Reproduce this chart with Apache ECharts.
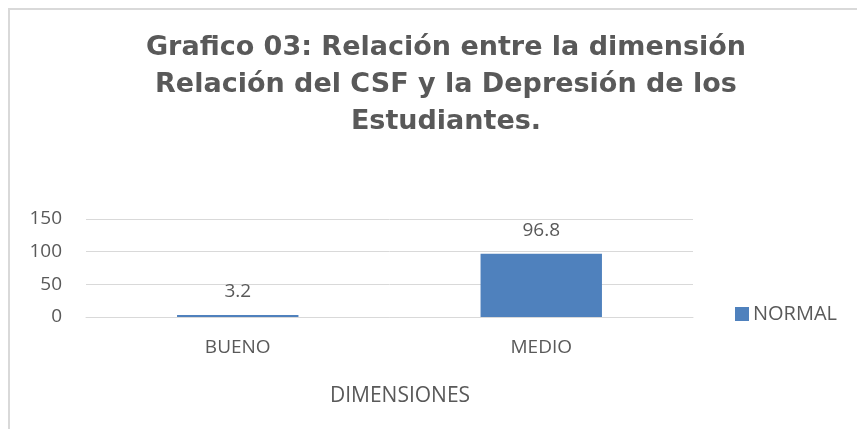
<!DOCTYPE html>
<html>
<head>
<meta charset="utf-8">
<script src="https://cdn.jsdelivr.net/npm/echarts@6/dist/echarts.min.js"></script>
<style>
  html, body { margin: 0; padding: 0; background: #fff; }
  #chart { width: 857px; height: 429px; }
</style>
</head>
<body>
<div id="chart"></div>
<script>
const categories = ['BUENO', 'MEDIO'];
const normalValues = [3.2, 96.8];
const seriesName = 'NORMAL';
const titleText = 'Grafico 03: Relación entre la dimensión\nRelación del CSF y la Depresión de los\nEstudiantes.';
const axisName = 'DIMENSIONES';

const textColor = '#595959';
const gridColor = '#d9d9d9';
const barColor = '#4f81bd';
const labelFont = '"Open Sans", Lato, sans-serif';

const chart = echarts.init(document.getElementById('chart'));

const option = {
  animation: false,
  title: {
    text: titleText,
    left: 446,
    top: 29,
    textAlign: 'center',
    padding: 0,
    textStyle: {
      fontFamily: '"DejaVu Sans", "Liberation Sans", sans-serif',
      fontSize: 27,
      fontWeight: 'bold',
      color: textColor,
      lineHeight: 37,
      align: 'center',
    },
  },
  graphic: [
    {
      type: 'rect',
      shape: { x: 9, y: 9, width: 900, height: 460 },
      style: { fill: 'none', stroke: gridColor, lineWidth: 2 },
      silent: true,
    },
  ],
  legend: {
    data: [seriesName],
    left: 735,
    top: 304,
    padding: 0,
    itemWidth: 14,
    itemHeight: 14,
    itemGap: 6,
    icon: 'rect',
    textStyle: {
      fontFamily: labelFont,
      fontSize: 20,
      color: textColor,
      padding: [0, 0, 0, -1],
    },
  },
  grid: {
    left: 86,
    right: 164,
    top: 219,
    bottom: 112,
  },
  xAxis: {
    type: 'category',
    data: categories,
    name: axisName,
    nameLocation: 'middle',
    nameGap: 69,
    nameTextStyle: {
      fontFamily: labelFont,
      fontSize: 21,
      color: textColor,
      padding: [0, 0, 0, 21],
    },
    axisLine: { lineStyle: { color: gridColor, width: 1 } },
    axisTick: { show: false },
    axisLabel: {
      fontFamily: labelFont,
      fontSize: 19,
      color: textColor,
      margin: 21,
    },
  },
  yAxis: {
    type: 'value',
    min: 0,
    max: 150,
    interval: 50,
    axisLine: { show: false },
    axisTick: { show: false },
    splitLine: { lineStyle: { color: gridColor, width: 1 } },
    axisLabel: {
      fontFamily: labelFont,
      fontSize: 19,
      color: textColor,
      margin: 24,
    },
  },
  series: [
    {
      name: seriesName,
      type: 'bar',
      data: normalValues,
      barWidth: '40%',
      itemStyle: { color: barColor },
      label: {
        show: true,
        position: 'top',
        distance: 14,
        fontFamily: labelFont,
        fontSize: 19,
        color: textColor,
      },
    },
  ],
};

chart.setOption(option);
</script>
</body>
</html>
